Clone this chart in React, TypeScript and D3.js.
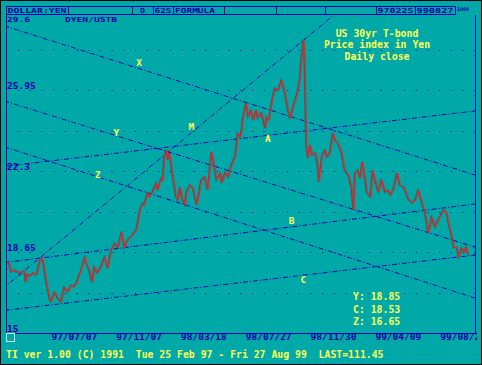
import * as d3 from "d3";

// daily close, sampled at bar index (625 sessions, 25 Feb 97 - 27 Aug 99)
const bars = [0, 3, 7, 14, 21, 23, 25, 29, 33, 37, 39, 43, 46, 51, 55, 57, 62, 66, 71, 75, 80, 85, 89, 93, 98, 103, 105, 109, 113, 116, 120, 125, 130, 134, 139, 144, 148, 153, 157, 161, 167, 173, 178, 182, 184, 188, 191, 195, 200, 202, 207, 209, 211, 214, 216, 218, 222, 227, 230, 232, 236, 239, 241, 246, 250, 255, 259, 261, 266, 270, 275, 280, 282, 287, 289, 294, 298, 302, 307, 311, 314, 316, 318, 322, 325, 329, 332, 336, 338, 343, 348, 350, 353, 357, 361, 366, 370, 375, 379, 382, 386, 391, 395, 397, 400, 401, 402, 403, 404, 406, 409, 412, 416, 419, 421, 425, 429, 432, 436, 440, 443, 447, 452, 456, 461, 465, 468, 470, 474, 477, 480, 484, 486, 491, 494, 497, 502, 506, 511, 515, 518, 522, 527, 531, 536, 539, 542, 547, 552, 556, 561, 565, 570, 574, 579, 583, 590, 594, 597, 602, 604, 608, 611, 615, 619, 621, 624];
const closes = [18.2, 17.75, 17.84, 17.71, 17.8, 17.3, 17.66, 17.57, 17.71, 17.62, 17.84, 18.38, 18.29, 17.26, 16.58, 16.4, 16.85, 16.58, 16.4, 17.08, 16.85, 17.17, 17.08, 17.39, 17.84, 18.43, 18.16, 17.84, 17.3, 17.98, 17.71, 17.98, 18.43, 17.93, 18.75, 19.06, 18.84, 19.56, 18.84, 19.2, 19.38, 19.65, 20.55, 20.87, 20.78, 21.32, 21.14, 21.36, 21.77, 21.45, 21.99, 21.9, 22.94, 23.26, 22.81, 23.12, 22.22, 21.14, 21.0, 21.59, 21.0, 20.78, 21.32, 21.68, 21.54, 20.78, 21.45, 21.9, 22.04, 21.45, 23.17, 22.35, 21.9, 22.22, 21.77, 22.26, 22.04, 22.58, 22.94, 24.02, 23.84, 24.16, 24.75, 25.38, 24.75, 25.06, 24.61, 25.06, 24.7, 24.93, 24.25, 24.75, 24.61, 25.42, 26.05, 25.96, 26.42, 25.83, 25.06, 24.7, 25.2, 25.74, 26.42, 27.32, 28.22, 27.9, 26.73, 24.75, 23.39, 22.9, 23.48, 23.03, 23.12, 22.67, 21.81, 22.94, 23.26, 22.94, 23.12, 24.02, 23.71, 23.57, 23.12, 22.35, 22.13, 21.59, 20.55, 22.22, 22.35, 21.99, 22.72, 21.9, 21.36, 21.14, 22.35, 21.9, 21.36, 21.9, 21.36, 21.45, 21.23, 21.45, 22.22, 21.68, 21.59, 21.36, 21.09, 20.87, 21.0, 21.45, 20.87, 20.41, 19.51, 20.23, 19.78, 20.1, 20.55, 20.46, 19.96, 19.29, 18.84, 18.88, 18.43, 18.84, 18.65, 18.88, 18.53];

const tickBars = [88, 176, 264, 352, 440, 528, 616];
const tickLabels = ["97/07/07", "97/11/07", "98/03/18", "98/07/27", "98/11/30", "99/04/09", "99/08/27"];
const yTicks = [29.6, 25.95, 22.3, 18.65, 15];
const gridVals = [16.825, 18.65, 20.475, 22.3, 24.125, 25.95, 27.775];

// trend lines: two anchors each (bar, value)
const lineNames = ["M", "X", "Y", "Z", "A", "B", "C"];
const lineFrom = [[0, 17.26], [-2, 28.81], [-2, 25.42], [-2, 23.35], [-2, 22.54], [-2, 18.2], [-2, 16.04]];
const lineTo = [[442, 29.39], [632, 22.13], [632, 18.88], [632, 16.58], [632, 25.02], [632, 20.82], [632, 18.52]];
const labelAt = [[247, 24.28], [176, 27.18], [145, 24.02], [120, 22.13], [351, 23.75], [383, 20.02], [399, 17.36]];

const legendRows = ["Y: 18.85", "C: 18.53", "Z: 16.65"];
const titleRows = ["US 30yr T-bond", "Price index in Yen", "Daily close"];

const BG = "#00a8a8";
const BLUE = "#0000a8";
const YEL = "#ffff55";
const FONT = "'DejaVu Sans Mono', monospace";

export default function App() {
    const width = 482, height = 365;
    const left = 6, right = 475, top = 15, bottom = 333;

    const x = d3.scaleLinear().domain([0, 624]).range([9.5, 469]);
    const y = d3.scaleLinear().domain([15, 29.6]).range([333, 9.5]);

    const pts: [number, number][] = bars.map((b, i) => [b, closes[i]]);
    const line = d3.line<[number, number]>().x(d => x(d[0])).y(d => y(d[1]));
    const pricePath = line(pts) || "";

    // extend each trend line across the plot
    const trend = lineNames.map((n, i) => {
        const [b1, v1] = lineFrom[i];
        const [b2, v2] = lineTo[i];
        const k = (v2 - v1) / (b2 - b1);
        const a = -20, b = 650;
        return {n, x1: x(a), y1: y(v1 + k * (a - b1)), x2: x(b), y2: y(v1 + k * (b - b1))};
    });

    const cells = [6, 68, 132, 153, 173, 224, 276, 325, 376, 415, 455];
    // header cell texts: [x, text, width]
    const headTexts: [number, string, number][] = [
        [7.5, "DOLLAR:YEN", 59], [140, "D", 5], [154.5, "625", 17], [175, "FORMULA", 40],
        [377.5, "970225", 36], [416.5, "990827", 37]
    ];

    return (
        <>
            <style>{`body{margin:0}`}</style>
            <svg width={width} height={height} style={{display: "block", background: BG}}>
                <defs>
                    <clipPath id="plot">
                        <rect x={left} y={top} width={right - left} height={bottom - top}/>
                    </clipPath>
                    <clipPath id="xlab">
                        <rect x={0} y={0} width={477} height={height}/>
                    </clipPath>
                </defs>
                <rect x={0.5} y={0.5} width={width - 1} height={height - 1} fill={BG} stroke="#000" strokeWidth={1}/>

                {/* header bar */}
                <rect x={6.5} y={6.5} width={449} height={8} fill="none" stroke={BLUE}/>
                {cells.slice(1, -1).map(c => (
                    <line key={c} x1={c + 0.5} x2={c + 0.5} y1={6.5} y2={14.5} stroke={BLUE}/>
                ))}
                <g fontFamily={FONT} fontWeight="bold" fontSize={7} fill={BLUE}>
                    {headTexts.map(([hx, t, w]) => (
                        <text key={t} x={hx} y={13} textLength={w} lengthAdjust="spacingAndGlyphs">{t}</text>
                    ))}
                    <text x={457} y={11} fontSize={5}>1000</text>
                    <text x={7} y={21.5} textLength={23} lengthAdjust="spacingAndGlyphs">29.6</text>
                    <text x={65} y={21.5} textLength={52} lengthAdjust="spacingAndGlyphs">DYEN/USTB</text>
                </g>

                {/* dotted grid */}
                {gridVals.map(v => (
                    <line key={v} x1={18} x2={right} y1={Math.round(y(v)) + 0.5} y2={Math.round(y(v)) + 0.5}
                          stroke={BLUE} strokeWidth={1} strokeDasharray="1 10.7"/>
                ))}

                {/* y labels */}
                <g fontFamily={FONT} fontWeight="bold" fontSize={9.5} fill={BLUE}>
                    {yTicks.slice(1).map(v => (
                        <text key={v} x={7} y={y(v) - 1.5}>{String(v)}</text>
                    ))}
                </g>

                <g clipPath="url(#plot)">
                    {trend.map(t => (
                        <line key={t.n} x1={t.x1} y1={t.y1} x2={t.x2} y2={t.y2}
                              stroke={BLUE} strokeWidth={1} strokeDasharray="5 2 1 2"/>
                    ))}
                    <path d={pricePath} fill="none" stroke="#555555" strokeWidth={1.4} transform="translate(-1,0)"/>
                    <path d={pricePath} fill="none" stroke="#ff2020" strokeWidth={1}/>
                </g>

                {/* line labels */}
                <g fontFamily={FONT} fontWeight="bold" fontSize={9.5} fill={YEL} textAnchor="middle" dominantBaseline="middle">
                    {lineNames.map((n, i) => (
                        <text key={n} x={x(labelAt[i][0])} y={y(labelAt[i][1])}>{n}</text>
                    ))}
                </g>

                {/* title */}
                <g fontFamily={FONT} fontWeight="bold" fontSize={9.8} fill={YEL} textAnchor="middle" dominantBaseline="middle">
                    {titleRows.map((t, i) => (
                        <text key={t} x={377} y={33.5 + i * 11.7} style={{whiteSpace: "pre"}}>{t}</text>
                    ))}
                </g>

                {/* legend */}
                <g fontFamily={FONT} fontWeight="bold" fontSize={9.8} fill={YEL} dominantBaseline="middle">
                    {legendRows.map((t, i) => (
                        <text key={t} x={353} y={297 + i * 12.5}>{t}</text>
                    ))}
                </g>

                {/* frame */}
                <line x1={6.5} x2={6.5} y1={top} y2={bottom} stroke={BLUE}/>
                <line x1={475.5} x2={475.5} y1={top} y2={bottom} stroke={BLUE}/>
                <line x1={6} x2={476} y1={333.5} y2={333.5} stroke={BLUE}/>
                <rect x={6.5} y={333.5} width={8} height={8} fill="none" stroke="#e0e0e0"/>

                {/* x labels */}
                <g fontFamily={FONT} fontWeight="bold" fontSize={9.5} fill={BLUE} textAnchor="middle"
                   dominantBaseline="middle" clipPath="url(#xlab)">
                    {tickBars.map((b, i) => (
                        <text key={b} x={x(b)} y={337}>{tickLabels[i]}</text>
                    ))}
                </g>

                {/* footer */}
                <text x={6} y={355} fontFamily={FONT} fontWeight="bold" fontSize={9.8} fill={YEL}
                      dominantBaseline="middle" style={{whiteSpace: "pre"}}>
                    {"TI ver 1.00 (C) 1991  Tue 25 Feb 97 - Fri 27 Aug 99  LAST=111.45"}
                </text>
            </svg>
        </>
    );
}
